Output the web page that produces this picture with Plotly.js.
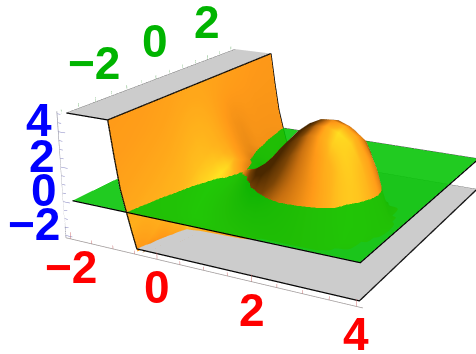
<!DOCTYPE html>
<html>
<head>
<meta charset="utf-8">
<script src="https://cdn.plot.ly/plotly-3.0.1.min.js"></script>
<style>
html, body { margin: 0; overflow: hidden; background: #fff; }
#chart { position: absolute; left: 0; top: -280px; width: 574px; height: 868px; }
</style>
</head>
<body>
<div id="chart"></div>
<script>
// tick values and labels
var xMajor = [-2, 0, 2, 4],
	xMinor = [-1.5, -1, -0.5, 0.5, 1, 1.5, 2.5, 3, 3.5],
	yMajor = [-2, 0, 2],
	yMinor = [-3, -2.5, -1.5, -1, -0.5, 0.5, 1, 1.5, 2.5, 3],
	zMajor = [-2, 0, 2, 4],
	zMinor = [-1.5, -1, -0.5, 0.5, 1, 1.5, 2.5, 3, 3.5, 4.5, 5],
	xLabels = ['\u22122', '0', '2', '4'],
	yLabels = ['\u22122', '0', '2'],
	zLabels = ['\u22122', '0', '2', '4'];

// surface heights, one row per |y|
var xGrid = [-1.05, -0.95, -0.85, -0.75, -0.65, -0.5, -0.375, -0.25, 0, 0.25, 0.5, 0.75, 1, 1.25, 1.5, 1.75, 2, 2.25, 2.5, 2.75, 3, 3.125, 3.25, 3.5, 4],
	yHalf = [0, 0.25, 0.5, 0.75, 1, 1.25, 1.5, 1.75, 2, 2.5, 3],
	row000 = [5, 4.35, 3.75, 3.2, 2.65, 1.85, 1.25, 0.65, 0.03, 0.2, 0.7, 1.4, 2.2, 3.0, 3.55, 3.9, 3.95, 3.7, 3.2, 2.0, 0, -1.6, -2.03, -2.03, -2.03],
	row025 = [5, 4.33, 3.72, 3.15, 2.58, 1.75, 1.05, 0.35, -0.08, 0.02, 0.55, 1.25, 2.1, 2.85, 3.4, 3.7, 3.75, 3.5, 3.0, 1.8, -0.4, -1.9, -2.03, -2.03, -2.03],
	row050 = [5, 4.28, 3.62, 3.0, 2.38, 1.5, 0.85, 0.2, -0.2, -0.15, 0.1, 0.85, 1.75, 2.55, 3.05, 3.35, 3.35, 3.05, 2.5, 0.9, -1.5, -2.03, -2.03, -2.03, -2.03],
	row075 = [5, 4.2, 3.45, 2.75, 2.1, 1.18, 0.5, -0.12, -0.35, -0.3, -0.15, 0.25, 1.0, 1.75, 2.3, 2.6, 2.6, 2.3, 1.6, -0.8, -2.03, -2.03, -2.03, -2.03, -2.03],
	row100 = [5, 4.1, 3.2, 2.4, 1.7, 0.75, 0.1, -0.45, -0.7, -0.65, -0.55, -0.35, 0.12, 0.7, 1.1, 1.3, 1.3, 0.95, 0.3, -1.7, -2.03, -2.03, -2.03, -2.03, -2.03],
	row125 = [5, 3.95, 3.0, 2.1, 1.3, 0.35, -0.3, -0.85, -1.2, -1.2, -1.1, -0.95, -0.7, -0.35, -0.05, -0.1, -0.25, -0.8, -1.9, -2.03, -2.03, -2.03, -2.03, -2.03, -2.03],
	row150 = [5, 3.85, 2.75, 1.8, 0.95, 0.1, -0.7, -1.35, -1.75, -1.85, -1.9, -1.92, -1.95, -2.0, -2.03, -2.03, -2.03, -2.03, -2.03, -2.03, -2.03, -2.03, -2.03, -2.03, -2.03],
	row175 = [5, 3.7, 2.6, 1.55, 0.7, -0.15, -1.15, -1.95, -2.03, -2.03, -2.03, -2.03, -2.03, -2.03, -2.03, -2.03, -2.03, -2.03, -2.03, -2.03, -2.03, -2.03, -2.03, -2.03, -2.03],
	row200 = [5, 3.6, 2.35, 1.25, 0.4, -0.6, -1.65, -2.6, -2.03, -2.03, -2.03, -2.03, -2.03, -2.03, -2.03, -2.03, -2.03, -2.03, -2.03, -2.03, -2.03, -2.03, -2.03, -2.03, -2.03],
	row250 = [5, 3.3, 1.8, 0.65, -0.1, -1.55, -2.6, -2.03, -2.03, -2.03, -2.03, -2.03, -2.03, -2.03, -2.03, -2.03, -2.03, -2.03, -2.03, -2.03, -2.03, -2.03, -2.03, -2.03, -2.03],
	row300 = [5, 3.0, 1.25, 0.15, -0.9, -2.4, -2.03, -2.03, -2.03, -2.03, -2.03, -2.03, -2.03, -2.03, -2.03, -2.03, -2.03, -2.03, -2.03, -2.03, -2.03, -2.03, -2.03, -2.03, -2.03];

var halfRows = [row000, row025, row050, row075, row100, row125, row150, row175, row200, row250, row300];

// the plot is symmetric in y
var yGrid = [], zGrid = [];
for (var j = yHalf.length - 1; j > 0; j--) {
	yGrid.push(-yHalf[j]);
	zGrid.push(halfRows[j]);
}
for (var j = 0; j < yHalf.length; j++) {
	yGrid.push(yHalf[j]);
	zGrid.push(halfRows[j]);
}

// light direction for the orange surface
var LIGHT = [0.62, -0.42, 0.66];

function shadeGrid() {
	var raw = [], out = [];
	for (var j = 0; j < yGrid.length; j++) {
		raw.push([]);
		for (var i = 0; i < xGrid.length; i++) {
			var i0 = Math.max(i - 1, 0), i1 = Math.min(i + 1, xGrid.length - 1),
				j0 = Math.max(j - 1, 0), j1 = Math.min(j + 1, yGrid.length - 1),
				fx = (zGrid[j][i1] - zGrid[j][i0]) / (xGrid[i1] - xGrid[i0]),
				fy = (zGrid[j1][i] - zGrid[j0][i]) / (yGrid[j1] - yGrid[j0]),
				len = Math.sqrt(fx * fx + fy * fy + 1);
			raw[j].push((-fx * LIGHT[0] - fy * LIGHT[1] + LIGHT[2]) / len);
		}
	}
	// soften the creases a little
	for (var j = 0; j < yGrid.length; j++) {
		out.push([]);
		for (var i = 0; i < xGrid.length; i++) {
			var sum = 0, n = 0;
			for (var b = -1; b <= 1; b++) {
				for (var a = -1; a <= 1; a++) {
					if (raw[j + b] !== undefined && raw[j + b][i + a] !== undefined) {
						var w = (2 - Math.abs(a)) * (2 - Math.abs(b));
						sum += w * raw[j + b][i + a];
						n += w;
					}
				}
			}
			out[j].push(sum / n);
		}
	}
	return out;
}

var FLAT = { ambient: 1, diffuse: 0, specular: 0, roughness: 1, fresnel: 0 };

function plane(xs, ys, level, color, opacity) {
	return {
		type: 'surface', x: xs, y: ys,
		z: ys.map(function () { return xs.map(function () { return level; }); }),
		colorscale: [[0, color], [1, color]], cmin: level - 1, cmax: level + 1,
		showscale: false, opacity: opacity, lighting: FLAT, hoverinfo: 'skip'
	};
}

function line(xs, ys, zs, color, width) {
	return {
		type: 'scatter3d', mode: 'lines', x: xs, y: ys, z: zs,
		line: { color: color, width: width }, hoverinfo: 'skip', connectgaps: false
	};
}

// wall edge on one side, down to where it meets the floor
function wallEdge(j) {
	var xs = [], ys = [], zs = [], r = zGrid[j];
	for (var i = 0; i < xGrid.length && r[i] >= -2; i++) {
		xs.push(xGrid[i]);
		ys.push(yGrid[j]);
		zs.push(r[i]);
	}
	xs.push(xGrid[i - 1] + (xGrid[i] - xGrid[i - 1]) * (r[i - 1] + 2) / (r[i - 1] - r[i]));
	ys.push(yGrid[j]);
	zs.push(-2);
	return line(xs, ys, zs, '#000', 2.5);
}

var BX = [-2.12, 4.12], BY = [-3.12, 3.12], BZ = [-2.14, 5.14];

function xTicks(vals, len, out) {
	vals.forEach(function (v) {
		out.x.push(v, v, null); out.y.push(BY[0], BY[0], null); out.z.push(BZ[0], BZ[0] + len, null);
	});
}
function yTicks(vals, len, out) {
	vals.forEach(function (v) {
		out.x.push(BX[0], BX[0], null); out.y.push(v, v, null); out.z.push(BZ[1], BZ[1] - len, null);
	});
}
function zTicks(vals, len, out) {
	vals.forEach(function (v) {
		out.x.push(BX[0], BX[0] + len, null); out.y.push(BY[0], BY[0], null); out.z.push(v, v, null);
	});
}

var xt = { x: [], y: [], z: [] }, yt = { x: [], y: [], z: [] }, zt = { x: [], y: [], z: [] };
xTicks(xMajor, 0.4, xt); xTicks(xMinor, 0.2, xt);
yTicks(yMajor, 0.4, yt); yTicks(yMinor, 0.2, yt);
zTicks(zMajor, 0.16, zt); zTicks(zMinor, 0.08, zt);

var data = [
	plane([-2, -1.05], [-3, 3], 5, '#cccccc', 1),
	plane([-0.55, 4], [-3, 3], -2, '#cccccc', 1),
	{
		type: 'surface', x: xGrid, y: yGrid, z: zGrid, surfacecolor: shadeGrid(),
		cmin: 0, cmax: 1,
		colorscale: [[0, '#4a2800'], [0.25, '#7a4406'], [0.45, '#c87010'], [0.66, '#ff9a18'], [0.78, '#ffb41c'], [0.9, '#ffe622'], [1, '#ffe622']],
		showscale: false, lighting: FLAT, hoverinfo: 'skip'
	},
	plane([-2, 4], [-3, 3], 0, '#03c403', 0.88),
	// black edges
	line([-2, -1.05, -1.05], [-3, -3, 3], [5, 5, 5], '#000', 2.5),
	line([-2, -2], [-3, 3], [5, 5], '#444', 1),
	wallEdge(0),
	wallEdge(yGrid.length - 1),
	line([-2, 4, 4], [-3, -3, 3], [0, 0, 0], '#000', 2.5),
	line([-0.7, 4], [3, 3], [0, 0], '#444', 1),
	line([-0.55, 4, 4], [-3, -3, 3], [-2, -2, -2], '#000', 2.5),
	line([-0.5, 4], [3, 3], [-2, -2], '#444', 1),
	// axis frame and ticks
	line(BX, [BY[0], BY[0]], [BZ[0], BZ[0]], '#a09a9a', 1.5),
	line([BX[0], BX[0]], BY, [BZ[1], BZ[1]], '#9aa09a', 1.5),
	line([BX[0], BX[0]], [BY[0], BY[0]], BZ, '#9a9aa8', 1.5),
	line(xt.x, xt.y, xt.z, '#cc7070', 1),
	line(yt.x, yt.y, yt.z, '#70b070', 1),
	line(zt.x, zt.y, zt.z, '#8080c0', 1)
];

function label(x, y, z, text, color, xshift, yshift, anchor) {
	return {
		x: x, y: y, z: z, text: text, showarrow: false,
		font: { family: 'Liberation Sans', size: 46, weight: 'bold', color: color },
		xanchor: anchor, yanchor: 'middle', xshift: xshift, yshift: yshift
	};
}

var notes = [];
xMajor.forEach(function (v, i) { notes.push(label(v, BY[0], BZ[0], xLabels[i], '#ff0000', 0, -28, 'center')); });
yMajor.forEach(function (v, i) { notes.push(label(BX[0], v, BZ[1], yLabels[i], '#00b400', -1, 33.5, 'center')); });
zMajor.forEach(function (v, i) { notes.push(label(BX[0], BY[0], v, zLabels[i], '#0000ff', -4, 11.5, 'right')); });

// scene kept small so the depth buffer resolves the shallow crossings
var SCALE = 0.2;

var layout = {
	width: 574, height: 868, margin: { l: 0, r: 0, t: 0, b: 0 },
	paper_bgcolor: '#fff', showlegend: false,
	scene: {
		domain: { x: [0, 1], y: [0, 1] },
		bgcolor: '#fff',
		aspectmode: 'manual', aspectratio: { x: SCALE, y: 1.0101 * SCALE, z: 0.4047 * SCALE },
		xaxis: { range: BX, autorange: false, visible: false },
		yaxis: { range: BY, autorange: false, visible: false },
		zaxis: { range: BZ, autorange: false, visible: false },
		camera: {
			eye: { x: 1.5089 * SCALE, y: -2.8025 * SCALE, z: 1.0599 * SCALE },
			center: { x: 0, y: 0, z: 0 },
			up: { x: 0.0015, y: -0.013, z: 1 },
			projection: { type: 'perspective' }
		},
		annotations: notes
	}
};

Plotly.newPlot('chart', data, layout, { displayModeBar: false });
</script>
</body>
</html>
